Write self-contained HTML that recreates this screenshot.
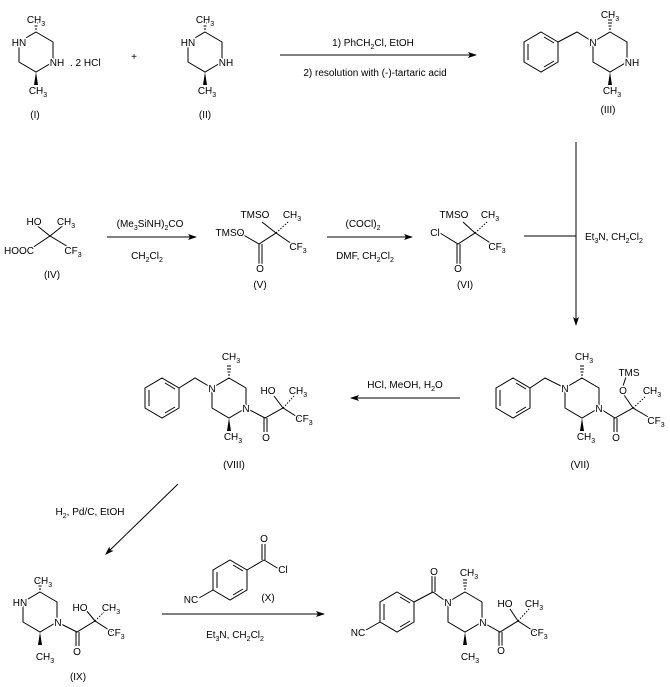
<!DOCTYPE html>
<html><head><meta charset="utf-8"><style>
html,body{margin:0;padding:0;background:#fff;width:670px;height:687px;overflow:hidden}
svg{display:block}
text{font-family:"Liberation Sans",Arial,sans-serif;font-size:10px;fill:#000;stroke:#fff;stroke-width:3px;paint-order:stroke;stroke-linejoin:round}
text.n{stroke:none}
.s{font-size:7px}
line,path,polyline{stroke:#000;stroke-width:1;fill:none}
</style></head><body>
<svg width="670" height="687" viewBox="0 0 670 687" xmlns="http://www.w3.org/2000/svg">
<defs>
<g id="pip">
<path d="M0,-20 L17,-10 L17,10 L0,20 L-17,10 L-17,-10 Z"/>
<g stroke="#000" stroke-width="1"><line x1="-1" y1="-23" x2="1" y2="-23"/><line x1="-1.5" y1="-26" x2="1.5" y2="-26"/><line x1="-2" y1="-29" x2="2" y2="-29"/><line x1="-2" y1="-32" x2="2" y2="-32"/></g>
<polygon points="0,20 -2,33 2,33" fill="#000"/>
</g>
<g id="benz">
<path d="M0,-20 L17,-10 L17,10 L0,20 L-17,10 L-17,-10 Z"/>
<line x1="-13" y1="-8" x2="-13" y2="8"/><line x1="3" y1="-15" x2="13" y2="-9"/><line x1="3" y1="15" x2="13" y2="9"/>
</g>
<g id="ah"><polygon points="0,0 -9,-3 -7,0 -9,3" fill="#000"/></g>
</defs>

<!-- (I) -->
<use href="#pip" x="36" y="52"/>
<text x="36" y="23" text-anchor="middle">CH<tspan class="s" dy="3">3</tspan></text>
<text x="19" y="46" text-anchor="middle">HN</text>
<text x="57" y="66" text-anchor="middle">NH</text>
<text x="38" y="94" text-anchor="middle">CH<tspan class="s" dy="3">3</tspan></text>
<text class="n" x="70" y="66">. 2 HCl</text>
<text class="n" x="35" y="118" text-anchor="middle">(I)</text>
<text class="n" x="134" y="60" text-anchor="middle">+</text>
<!-- (II) -->
<use href="#pip" x="205" y="52"/>
<text x="205" y="23" text-anchor="middle">CH<tspan class="s" dy="3">3</tspan></text>
<text x="188" y="46" text-anchor="middle">HN</text>
<text x="226" y="66" text-anchor="middle">NH</text>
<text x="207" y="94" text-anchor="middle">CH<tspan class="s" dy="3">3</tspan></text>
<text class="n" x="205" y="118" text-anchor="middle">(II)</text>
<!-- arrow 1 -->
<line x1="280" y1="55" x2="476" y2="55"/><use href="#ah" x="477" y="55"/>
<text class="n" x="373" y="46" text-anchor="middle">1) PhCH<tspan class="s" dy="3">2</tspan><tspan dy="-3">Cl, EtOH</tspan></text>
<text class="n" x="375" y="76" text-anchor="middle">2) resolution with (-)-tartaric acid</text>
<!-- (III) -->
<use href="#pip" x="610" y="52"/>
<use href="#benz" x="541" y="52"/>
<polyline points="558,42 577,32 593,42"/>
<text x="610" y="18" text-anchor="middle">CH<tspan class="s" dy="3">3</tspan></text>
<text x="593" y="46" text-anchor="middle">N</text>
<text x="632" y="66" text-anchor="middle">NH</text>
<text x="612" y="94" text-anchor="middle">CH<tspan class="s" dy="3">3</tspan></text>
<text class="n" x="608" y="113" text-anchor="middle">(III)</text>

<!-- (IV) -->
<polyline points="35,224 50,236 65,224"/><polyline points="32,248 50,236 70,248"/>
<text x="34" y="225" text-anchor="middle">HO</text>
<text x="66" y="225" text-anchor="middle">CH<tspan class="s" dy="3">3</tspan></text>
<text x="19" y="254" text-anchor="middle">HOOC</text>
<text x="73" y="254" text-anchor="middle">CF<tspan class="s" dy="3">3</tspan></text>
<text class="n" x="52" y="278" text-anchor="middle">(IV)</text>
<line x1="107" y1="237" x2="196" y2="237"/><use href="#ah" x="197" y="237"/>
<text class="n" x="150" y="227" text-anchor="middle">(Me<tspan class="s" dy="3">3</tspan><tspan dy="-3">SiNH)</tspan><tspan class="s" dy="3">2</tspan><tspan dy="-3">CO</tspan></text>
<text class="n" x="147" y="259" text-anchor="middle">CH<tspan class="s" dy="3">2</tspan><tspan dy="-3">Cl</tspan><tspan class="s" dy="3">2</tspan></text>
<!-- (V) -->
<polyline points="240,233 259,244 276,233 292,244"/><line x1="259" y1="244" x2="259" y2="264"/><line x1="262" y1="244" x2="262" y2="264"/>
<line x1="276" y1="233" x2="262" y2="222"/><line x1="276" y1="233" x2="288" y2="222" stroke-dasharray="1.5,1.5"/>
<text x="255" y="218" text-anchor="middle">TMSO</text>
<text x="292" y="218" text-anchor="middle">CH<tspan class="s" dy="3">3</tspan></text>
<text x="230" y="236" text-anchor="middle">TMSO</text>
<text x="298" y="250" text-anchor="middle">CF<tspan class="s" dy="3">3</tspan></text>
<text x="260" y="272" text-anchor="middle">O</text>
<text class="n" x="260" y="288" text-anchor="middle">(V)</text>
<line x1="327" y1="237" x2="412" y2="237"/><use href="#ah" x="413" y="237"/>
<text class="n" x="363" y="227" text-anchor="middle">(COCl)<tspan class="s" dy="3">2</tspan></text>
<text class="n" x="365" y="259" text-anchor="middle">DMF, CH<tspan class="s" dy="3">2</tspan><tspan dy="-3">Cl</tspan><tspan class="s" dy="3">2</tspan></text>
<!-- (VI) -->
<polyline points="440,233 458,244 475,233 492,244"/><line x1="457" y1="244" x2="457" y2="264"/><line x1="460" y1="244" x2="460" y2="264"/>
<line x1="475" y1="233" x2="463" y2="222"/><line x1="475" y1="233" x2="487" y2="222" stroke-dasharray="1.5,1.5"/>
<text x="454" y="218" text-anchor="middle">TMSO</text>
<text x="490" y="218" text-anchor="middle">CH<tspan class="s" dy="3">3</tspan></text>
<text x="435" y="236" text-anchor="middle">Cl</text>
<text x="497" y="250" text-anchor="middle">CF<tspan class="s" dy="3">3</tspan></text>
<text x="458" y="272" text-anchor="middle">O</text>
<text class="n" x="465" y="288" text-anchor="middle">(VI)</text>
<!-- right arrow -->
<line x1="576" y1="142" x2="576" y2="324"/><use href="#ah" transform="translate(576,326) rotate(90)"/>
<line x1="524" y1="236" x2="576" y2="236"/>
<text class="n" x="585" y="240">Et<tspan class="s" dy="3">3</tspan><tspan dy="-3">N, CH</tspan><tspan class="s" dy="3">2</tspan><tspan dy="-3">Cl</tspan><tspan class="s" dy="3">2</tspan></text>

<!-- (VII) -->
<use href="#pip" x="582" y="398"/>
<use href="#benz" x="513" y="398"/>
<polyline points="530,388 545,378 565,388"/>
<polyline points="599,408 615,418 633,408 650,418"/><line x1="614" y1="418" x2="614" y2="432"/><line x1="617" y1="418" x2="617" y2="432"/>
<line x1="633" y1="408" x2="624" y2="395"/><line x1="633" y1="408" x2="645" y2="397" stroke-dasharray="1.5,1.5"/><line x1="623" y1="386" x2="626" y2="377"/>
<text x="584" y="360" text-anchor="middle">CH<tspan class="s" dy="3">3</tspan></text>
<text x="565" y="392" text-anchor="middle">N</text>
<text x="599" y="412" text-anchor="middle">N</text>
<text x="586" y="440" text-anchor="middle">CH<tspan class="s" dy="3">3</tspan></text>
<text x="629" y="376" text-anchor="middle">TMS</text>
<text x="623" y="394" text-anchor="middle">O</text>
<text x="652" y="394" text-anchor="middle">CH<tspan class="s" dy="3">3</tspan></text>
<text x="656" y="424" text-anchor="middle">CF<tspan class="s" dy="3">3</tspan></text>
<text x="616" y="441" text-anchor="middle">O</text>
<text class="n" x="580" y="468" text-anchor="middle">(VII)</text>
<line x1="460" y1="398" x2="351" y2="398"/><use href="#ah" transform="translate(350,398) rotate(180)"/>
<text class="n" x="405" y="388" text-anchor="middle">HCl, MeOH, H<tspan class="s" dy="3">2</tspan><tspan dy="-3">O</tspan></text>

<!-- (VIII) -->
<use href="#pip" x="229" y="398"/>
<use href="#benz" x="162" y="398"/>
<polyline points="179,388 195,378 212,388"/>
<polyline points="246,408 265,418 283,408 299,418"/><line x1="264" y1="418" x2="264" y2="432"/><line x1="267" y1="418" x2="267" y2="432"/>
<line x1="283" y1="408" x2="274" y2="396"/><line x1="283" y1="408" x2="294" y2="396" stroke-dasharray="1.5,1.5"/>
<text x="231" y="360" text-anchor="middle">CH<tspan class="s" dy="3">3</tspan></text>
<text x="212" y="392" text-anchor="middle">N</text>
<text x="246" y="412" text-anchor="middle">N</text>
<text x="233" y="440" text-anchor="middle">CH<tspan class="s" dy="3">3</tspan></text>
<text x="268" y="394" text-anchor="middle">HO</text>
<text x="298" y="394" text-anchor="middle">CH<tspan class="s" dy="3">3</tspan></text>
<text x="304" y="422" text-anchor="middle">CF<tspan class="s" dy="3">3</tspan></text>
<text x="266" y="441" text-anchor="middle">O</text>
<text class="n" x="234" y="468" text-anchor="middle">(VIII)</text>
<line x1="178" y1="484" x2="107" y2="553"/><use href="#ah" transform="translate(105,555) rotate(136)"/>
<text class="n" x="90" y="515" text-anchor="middle">H<tspan class="s" dy="3">2</tspan><tspan dy="-3">, Pd/C, EtOH</tspan></text>

<!-- (IX) -->
<use href="#pip" x="40" y="612"/>
<polyline points="57,622 77,632 95,621 112,632"/><line x1="76" y1="632" x2="76" y2="646"/><line x1="79" y1="632" x2="79" y2="646"/>
<line x1="95" y1="621" x2="86" y2="610"/><line x1="95" y1="621" x2="106" y2="610" stroke-dasharray="1.5,1.5"/>
<text x="43" y="584" text-anchor="middle">CH<tspan class="s" dy="3">3</tspan></text>
<text x="20" y="606" text-anchor="middle">HN</text>
<text x="58" y="626" text-anchor="middle">N</text>
<text x="45" y="660" text-anchor="middle">CH<tspan class="s" dy="3">3</tspan></text>
<text x="80" y="611" text-anchor="middle">HO</text>
<text x="111" y="611" text-anchor="middle">CH<tspan class="s" dy="3">3</tspan></text>
<text x="116" y="636" text-anchor="middle">CF<tspan class="s" dy="3">3</tspan></text>
<text x="77" y="655" text-anchor="middle">O</text>
<text class="n" x="78" y="680" text-anchor="middle">(IX)</text>
<!-- (X) -->
<use href="#benz" x="230" y="580"/>
<line x1="247" y1="570" x2="264" y2="560"/><line x1="262" y1="560" x2="262" y2="544"/><line x1="265" y1="560" x2="265" y2="544"/><line x1="264" y1="560" x2="279" y2="569"/>
<line x1="213" y1="590" x2="199" y2="598"/>
<text x="264" y="542" text-anchor="middle">O</text>
<text x="283" y="573" text-anchor="middle">Cl</text>
<text x="191" y="603" text-anchor="middle">NC</text>
<text class="n" x="268" y="601" text-anchor="middle">(X)</text>
<line x1="162" y1="614" x2="324" y2="614"/><use href="#ah" x="325" y="614"/>
<text class="n" x="235" y="638" text-anchor="middle">Et<tspan class="s" dy="3">3</tspan><tspan dy="-3">N, CH</tspan><tspan class="s" dy="3">2</tspan><tspan dy="-3">Cl</tspan><tspan class="s" dy="3">2</tspan></text>

<!-- product -->
<use href="#benz" x="397" y="612"/>
<line x1="414" y1="602" x2="433" y2="592"/><line x1="432" y1="592" x2="432" y2="576"/><line x1="435" y1="592" x2="435" y2="576"/><line x1="433" y1="592" x2="447" y2="602"/>
<line x1="380" y1="622" x2="366" y2="630"/>
<use href="#pip" x="465" y="612"/>
<polyline points="482,622 500,632 518,621 535,632"/><line x1="499" y1="632" x2="499" y2="646"/><line x1="502" y1="632" x2="502" y2="646"/>
<line x1="518" y1="621" x2="510" y2="609"/><line x1="518" y1="621" x2="529" y2="609" stroke-dasharray="1.5,1.5"/>
<text x="434" y="575" text-anchor="middle">O</text>
<text x="358" y="636" text-anchor="middle">NC</text>
<text x="448" y="606" text-anchor="middle">N</text>
<text x="483" y="626" text-anchor="middle">N</text>
<text x="469" y="576" text-anchor="middle">CH<tspan class="s" dy="3">3</tspan></text>
<text x="470" y="660" text-anchor="middle">CH<tspan class="s" dy="3">3</tspan></text>
<text x="505" y="607" text-anchor="middle">HO</text>
<text x="534" y="607" text-anchor="middle">CH<tspan class="s" dy="3">3</tspan></text>
<text x="539" y="636" text-anchor="middle">CF<tspan class="s" dy="3">3</tspan></text>
<text x="501" y="654" text-anchor="middle">O</text>
</svg>
</body></html>
